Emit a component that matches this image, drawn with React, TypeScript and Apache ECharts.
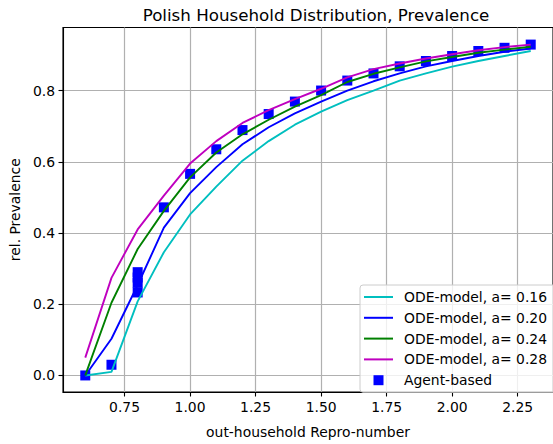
import React, { useEffect, useRef } from "react";
import * as echarts from "echarts";

const xValues = [0.6, 0.7, 0.8, 0.9, 1.0, 1.1, 1.2, 1.3, 1.4, 1.5, 1.6, 1.7, 1.8, 1.9, 2.0, 2.1, 2.2, 2.3];

const ode016 = [0.0, 0.01, 0.208, 0.346, 0.452, 0.53, 0.603, 0.658, 0.704, 0.741, 0.773, 0.8, 0.828, 0.848, 0.867, 0.883, 0.897, 0.911];
const ode020 = [0.0, 0.103, 0.254, 0.415, 0.512, 0.585, 0.649, 0.697, 0.736, 0.769, 0.8, 0.826, 0.848, 0.868, 0.883, 0.897, 0.909, 0.918];
const ode024 = [0.0, 0.204, 0.355, 0.462, 0.556, 0.626, 0.677, 0.718, 0.755, 0.787, 0.824, 0.847, 0.865, 0.882, 0.894, 0.906, 0.915, 0.923];
const ode028 = [0.05, 0.274, 0.41, 0.505, 0.595, 0.658, 0.709, 0.745, 0.776, 0.805, 0.837, 0.86, 0.876, 0.89, 0.902, 0.913, 0.922, 0.929];

const agentX = [0.6, 0.7, 0.8, 0.8, 0.8, 0.8, 0.9, 1.0, 1.1, 1.2, 1.3, 1.4, 1.5, 1.6, 1.7, 1.8, 1.9, 2.0, 2.1, 2.2, 2.3];
const agentY = [0.0, 0.03, 0.29, 0.275, 0.26, 0.233, 0.472, 0.566, 0.635, 0.689, 0.734, 0.769, 0.8, 0.828, 0.848, 0.868, 0.883, 0.897, 0.911, 0.92, 0.929];

const xTicks = [0.75, 1.0, 1.25, 1.5, 1.75, 2.0, 2.25];
const yTicks = [0.0, 0.2, 0.4, 0.6, 0.8];

const odeNames = ["ODE-model, a= 0.16", "ODE-model, a= 0.20", "ODE-model, a= 0.24", "ODE-model, a= 0.28"];
const odeColors = ["#00bfbf", "#0000ff", "#008000", "#bf00bf"];
const odeData = [ode016, ode020, ode024, ode028];
const agentName = "Agent-based";

const FONT = "DejaVu Sans";

export default function App() {
  const ref = useRef<HTMLDivElement>(null);
  useEffect(() => {
    if (!ref.current) return;
    const chart = echarts.init(ref.current, null, { renderer: "svg" });
    const lineSeries = odeData.map((arr, i) => ({
      name: odeNames[i],
      type: "line",
      data: xValues.map((x, j) => [x, arr[j]]),
      symbol: "none",
      lineStyle: { color: odeColors[i], width: 1.9 },
      itemStyle: { color: odeColors[i] },
      z: 3,
    }));
    const option: any = {
      animation: false,
      title: {
        text: "Polish Household Distribution, Prevalence",
        left: 311,
        top: 1,
        textAlign: "center",
        textStyle: { fontFamily: FONT, fontSize: 16.7, fontWeight: "normal", color: "#000" },
      },
      grid: {
        left: 62,
        top: 27.5,
        width: 498,
        height: 371.5,
        show: true,
        borderColor: "#000",
        borderWidth: 1.1,
        backgroundColor: "transparent",
      },
      xAxis: {
        type: "value",
        min: 0.515,
        max: 2.385,
        name: "out-household Repro-number",
        nameLocation: "middle",
        nameGap: 33,
        nameTextStyle: { fontFamily: FONT, fontSize: 13.9, color: "#000" },
        axisLine: { show: true, onZero: false, lineStyle: { color: "#000", width: 1.1 } },
        axisTick: { show: true, length: 4.5, lineStyle: { color: "#000", width: 1.1 }, customValues: xTicks },
        axisLabel: {
          customValues: xTicks,
          fontFamily: FONT,
          fontSize: 13.9,
          color: "#000",
          margin: 8,
          formatter: (v: number) => v.toFixed(2),
        },
        splitLine: { show: true, lineStyle: { color: "#b0b0b0", width: 1.2 } },
      },
      yAxis: {
        type: "value",
        min: -0.0465,
        max: 0.977,
        name: "rel. Prevalence",
        nameLocation: "middle",
        nameGap: 35,
        nameTextStyle: { fontFamily: FONT, fontSize: 13.9, color: "#000" },
        axisLine: { show: true, onZero: false, lineStyle: { color: "#000", width: 1.1 } },
        axisTick: { show: true, length: 4.5, lineStyle: { color: "#000", width: 1.1 }, customValues: yTicks },
        axisLabel: {
          customValues: yTicks,
          fontFamily: FONT,
          fontSize: 13.9,
          color: "#000",
          margin: 8,
          formatter: (v: number) => v.toFixed(1),
        },
        splitLine: { show: true, lineStyle: { color: "#b0b0b0", width: 1.2 } },
      },
      legend: {
        orient: "vertical",
        left: 360,
        top: 285,
        padding: [5, 12, 5, 4],
        itemWidth: 29,
        itemHeight: 10,
        itemGap: 6.8,
        symbolKeepAspect: true,
        backgroundColor: "rgba(255,255,255,0.8)",
        borderColor: "#cccccc",
        borderWidth: 1,
        borderRadius: 3,
        textStyle: { fontFamily: FONT, fontSize: 13.9, color: "#000", lineHeight: 14, padding: [0, 0, 0, 6] },
        data: [
          ...odeNames.map((n) => ({ name: n, icon: "path://M0,0H29V2H0Z" })),
          { name: agentName, icon: "path://M0,0H10V10H0Z" },
        ],
      },
      series: [
        {
          name: agentName,
          type: "scatter",
          data: agentX.map((x, j) => [x, agentY[j]]),
          symbol: "rect",
          symbolSize: 10,
          itemStyle: { color: "#0000ff", opacity: 1 },
          z: 2,
        },
        ...lineSeries,
      ],
    };
    chart.setOption(option);
    return () => chart.dispose();
  }, []);
  return <div ref={ref} style={{ width: 553, height: 444, position: "absolute", left: 0, top: 0 }} />;
}
